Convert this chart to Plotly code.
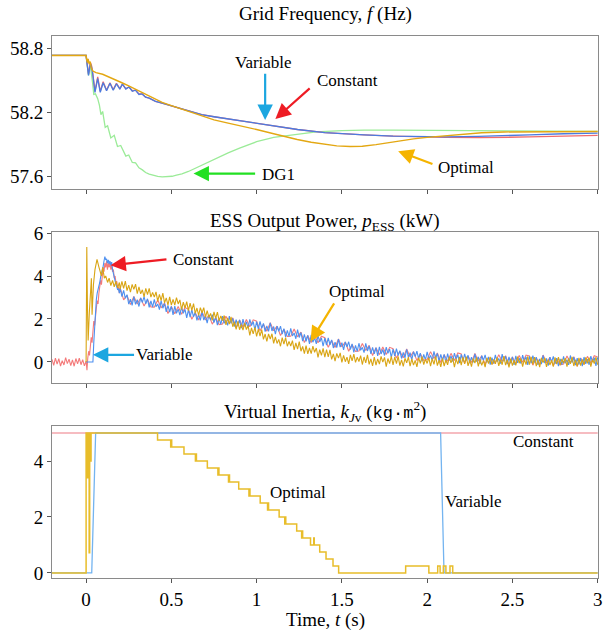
import plotly.graph_objects as go

# ---------------- Panel 1: Grid frequency (Hz) ----------------
t_f_var = [-0.2, 0.0, 0.004, 0.014, 0.025, 0.032, 0.039, 0.052, 0.068, 0.083, 0.100, 0.120, 0.140,
           0.159, 0.178, 0.198, 0.213, 0.233, 0.252, 0.271, 0.290, 0.310, 0.329, 0.349, 0.37, 0.39,
           0.407, 0.44, 0.484, 0.53, 0.58, 0.63, 0.678, 0.75, 0.833, 0.9, 1.0, 1.1, 1.24, 1.4, 1.5,
           1.63, 1.8, 2.0, 2.11, 2.3, 2.45, 2.6, 2.8, 3.0]
f_var = [58.737, 58.737, 58.68, 58.55, 58.66, 58.63, 58.56, 58.39, 58.52, 58.39, 58.48, 58.405, 58.475,
         58.41, 58.47, 58.42, 58.47, 58.42, 58.44, 58.40, 58.41, 58.37, 58.375, 58.345, 58.335, 58.315,
         58.305, 58.29, 58.27, 58.25, 58.23, 58.20, 58.18, 58.16, 58.14, 58.125, 58.10, 58.07, 58.04, 58.01, 58.0,
         57.99, 57.978, 57.972, 57.97, 57.975, 57.98, 57.99, 58.0, 58.006]
f_const = [58.737, 58.737, 58.69, 58.56, 58.67, 58.64, 58.57, 58.40, 58.535, 58.40, 58.49, 58.41, 58.48,
           58.415, 58.475, 58.425, 58.465, 58.425, 58.44, 58.405, 58.41, 58.375, 58.375, 58.345, 58.335, 58.315,
           58.305, 58.29, 58.27, 58.25, 58.23, 58.20, 58.18, 58.16, 58.14, 58.125, 58.10, 58.07, 58.04, 58.01, 58.0,
           57.99, 57.978, 57.968, 57.965, 57.963, 57.965, 57.97, 57.978, 57.985]
t_f_opt = [-0.2, 0.0, 0.004, 0.008, 0.012, 0.018, 0.024, 0.03, 0.04, 0.058, 0.097, 0.135, 0.174, 0.21,
           0.25, 0.3, 0.349, 0.4, 0.446, 0.5, 0.562, 0.62, 0.678, 0.75, 0.833, 0.92, 1.0, 1.1, 1.17,
           1.238, 1.32, 1.4, 1.47, 1.548, 1.62, 1.7, 1.82, 1.92, 2.0, 2.11, 2.2, 2.32, 2.45, 2.6, 2.8, 3.0]
f_opt = [58.737, 58.737, 58.69, 58.67, 58.705, 58.655, 58.68, 58.62, 58.59, 58.575, 58.56, 58.535, 58.51, 58.48,
         58.45, 58.41, 58.37, 58.33, 58.295, 58.265, 58.23, 58.197, 58.165, 58.13, 58.10, 58.07, 58.04, 58.0, 57.972,
         57.946, 57.92, 57.9, 57.886, 57.88, 57.883, 57.898, 57.93, 57.952, 57.966, 57.98, 57.995, 58.01, 58.017,
         58.02, 58.021, 58.021]
t_f_dg1 = [-0.2, 0.0, 0.014, 0.025, 0.038, 0.045, 0.055, 0.068, 0.078, 0.087, 0.097, 0.112, 0.126, 0.145,
           0.165, 0.184, 0.203, 0.233, 0.25, 0.271, 0.29, 0.31, 0.33, 0.349, 0.37, 0.388, 0.42, 0.446,
           0.475, 0.504, 0.53, 0.562, 0.6, 0.64, 0.68, 0.717, 0.78, 0.833, 0.9, 1.0, 1.1, 1.238, 1.35,
           1.5, 1.63, 1.8, 2.0, 2.5, 3.0]
f_dg1 = [58.737, 58.737, 58.55, 58.64, 58.48, 58.37, 58.375, 58.33, 58.27, 58.18, 58.21, 58.06, 58.075, 57.96,
         57.985, 57.88, 57.89, 57.79, 57.80, 57.73, 57.725, 57.68, 57.66, 57.635, 57.62, 57.61, 57.598, 57.594,
         57.595, 57.60, 57.61, 57.622, 57.645, 57.675, 57.705, 57.74, 57.785, 57.82, 57.865, 57.925, 57.965,
         57.995, 58.018, 58.03, 58.035, 58.034, 58.032, 58.026, 58.022]

# ---------------- Panel 2: ESS output power (kW) ----------------
t_ess_grid = [round(0.2 + 0.01 * i, 2) for i in range(281)]
t_ess_grid_red = [round(0.2 + 0.02 * i, 2) for i in range(141)]
t_ess_pre_red = [round(-0.2 + 0.01 * i, 2) for i in range(21)]

ess_const_pre = [0.12, -0.16, 0.18, -0.10, 0.15, -0.19, 0.06, -0.14, 0.20, -0.08, 0.13, -0.17, 0.10,
                 -0.20, 0.16, -0.09, 0.18, -0.13, 0.11, -0.18, 0.04]
t_ess_const_start = [0.005, 0.01, 0.015, 0.02, 0.025, 0.03, 0.035, 0.04, 0.045, 0.05, 0.055, 0.06, 0.065,
                     0.07, 0.075, 0.08, 0.085, 0.09, 0.095, 0.10, 0.105, 0.11, 0.115, 0.12, 0.125, 0.13,
                     0.135, 0.14, 0.145, 0.15, 0.155, 0.16, 0.165, 0.17, 0.175, 0.18, 0.185, 0.19, 0.195]
ess_const_start = [-0.38, 0.2, 0.5, 0.3, 0.8, 1.15, 0.9, 1.5, 1.9, 1.7, 2.3, 2.5, 2.85, 2.7, 3.2, 3.5, 3.8,
                   3.6, 4.1, 4.4, 4.2, 4.6, 4.4, 4.7, 4.3, 4.6, 4.4, 4.65, 4.3, 4.5, 4.2, 4.3, 3.9, 4.0,
                   3.7, 3.75, 3.4, 3.5, 3.2]
ess_const_grid = [
    3.45, 2.89, 3.10, 2.67, 3.05, 2.70, 2.98, 2.60, 2.91, 2.56,
    2.55, 2.88, 2.52, 2.74, 2.25, 2.58, 2.24, 2.58, 2.22, 2.53,
    2.45, 1.99, 2.29, 1.95, 2.34, 1.95, 2.18, 1.76, 2.06, 1.74,
    1.77, 2.13, 1.80, 2.05, 1.59, 1.95, 1.63, 1.98, 1.64, 1.96,
    1.90, 1.45, 1.76, 1.43, 1.83, 1.45, 1.67, 1.23, 1.52, 1.19,
    1.20, 1.53, 1.17, 1.39, 0.90, 1.23, 0.90, 1.24, 0.89, 1.20,
    1.13, 0.68, 1.00, 0.67, 1.07, 0.70, 0.93, 0.50, 0.81, 0.49,
    0.51, 0.86, 0.53, 0.77, 0.30, 0.66, 0.34, 0.70, 0.35, 0.68,
    0.62, 0.18, 0.50, 0.19, 0.60, 0.23, 0.48, 0.06, 0.38, 0.07,
    0.11, 0.48, 0.16, 0.42, -0.03, 0.34, 0.03, 0.40, 0.07, 0.42,
    0.37, -0.06, 0.28, -0.03, 0.39, 0.04, 0.29, -0.11, 0.21, -0.08,
    -0.03, 0.34, 0.03, 0.29, -0.15, 0.23, -0.08, 0.30, -0.02, 0.32,
    0.28, -0.15, 0.19, -0.11, 0.32, -0.04, 0.22, -0.18, 0.15, -0.14,
    -0.10, 0.28, -0.03, 0.24, -0.20, 0.18, -0.12, 0.26, -0.06, 0.29,
    0.23]

t_ess_var_start = [0.0, 0.04, 0.045, 0.05, 0.055, 0.06, 0.065, 0.07, 0.075, 0.08, 0.085, 0.09, 0.095,
                   0.10, 0.105, 0.11, 0.115, 0.12, 0.125, 0.13, 0.135, 0.14, 0.145, 0.15, 0.155, 0.16,
                   0.165, 0.17, 0.175, 0.18, 0.185, 0.19, 0.195]
ess_var_start = [0, 0, 0.9, 1.8, 2.5, 2.9, 3.2, 3.35, 3.6, 3.7, 3.95, 4.1, 4.3, 4.45, 4.7, 4.9, 4.75, 4.8,
                 4.6, 4.75, 4.55, 4.7, 4.5, 4.65, 4.3, 4.1, 3.95, 3.75, 3.6, 3.5, 3.35, 3.4, 3.2]
ess_var_grid = [
    3.43, 3.04, 3.33, 2.96, 3.13, 2.69, 2.92, 2.63, 3.04, 2.68,
    2.90, 2.58, 2.98, 2.77, 3.04, 2.70, 2.94, 2.54, 2.84, 2.55,
    2.91, 2.57, 2.70, 2.44, 2.85, 2.50, 2.72, 2.33, 2.63, 2.32,
    2.59, 2.19, 2.60, 2.26, 2.46, 2.18, 2.56, 2.26, 2.45, 2.05,
    2.43, 2.09, 2.43, 2.10, 2.32, 1.94, 2.20, 1.94, 2.33, 1.95,
    2.15, 1.81, 2.18, 1.95, 2.20, 1.83, 2.09, 1.71, 2.02, 1.75,
    2.13, 1.80, 1.95, 1.70, 2.13, 1.79, 2.03, 1.65, 1.97, 1.67,
    1.96, 1.57, 1.99, 1.65, 1.86, 1.59, 1.98, 1.69, 1.88, 1.49,
    1.88, 1.54, 1.89, 1.56, 1.79, 1.41, 1.68, 1.42, 1.82, 1.44,
    1.65, 1.30, 1.67, 1.43, 1.67, 1.30, 1.55, 1.16, 1.47, 1.19,
    1.56, 1.21, 1.35, 1.08, 1.50, 1.14, 1.37, 0.97, 1.28, 0.96,
    1.24, 0.84, 1.26, 0.92, 1.12, 0.84, 1.23, 0.93, 1.12, 0.73,
    1.11, 0.78, 1.12, 0.80, 1.03, 0.65, 0.92, 0.67, 1.06, 0.69,
    0.90, 0.56, 0.93, 0.70, 0.94, 0.58, 0.84, 0.45, 0.77, 0.49,
    0.87, 0.54, 0.68, 0.43, 0.86, 0.51, 0.75, 0.37, 0.68, 0.38,
    0.67, 0.28, 0.70, 0.37, 0.58, 0.30, 0.69, 0.40, 0.60, 0.21,
    0.60, 0.27, 0.62, 0.30, 0.53, 0.16, 0.44, 0.19, 0.59, 0.22,
    0.43, 0.09, 0.48, 0.25, 0.50, 0.15, 0.41, 0.03, 0.35, 0.09,
    0.47, 0.15, 0.30, 0.06, 0.49, 0.16, 0.40, 0.03, 0.35, 0.06,
    0.35, -0.03, 0.39, 0.07, 0.28, 0.02, 0.41, 0.13, 0.34, -0.05,
    0.35, 0.03, 0.38, 0.07, 0.31, -0.06, 0.22, -0.02, 0.38, 0.02,
    0.24, -0.09, 0.29, 0.07, 0.33, -0.02, 0.24, -0.13, 0.20, -0.06,
    0.33, 0.01, 0.16, -0.08, 0.36, 0.03, 0.27, -0.10, 0.23, -0.06,
    0.24, -0.14, 0.28, -0.04, 0.18, -0.08, 0.32, 0.03, 0.24, -0.14,
    0.26, -0.06, 0.29, -0.02, 0.22, -0.14, 0.14, -0.10, 0.31, -0.05,
    0.16, -0.17, 0.22, 0.00, 0.26, -0.09, 0.18, -0.19, 0.14, -0.12,
    0.26, -0.06, 0.10, -0.14, 0.30, -0.03, 0.22, -0.15, 0.18, -0.11,
    0.18, -0.20, 0.23, -0.09, 0.13, -0.13, 0.27, -0.01, 0.20, -0.18,
    0.21]

t_ess_opt_start = [0.0, 0.004, 0.008, 0.012, 0.019, 0.025, 0.031, 0.035, 0.043, 0.052, 0.064, 0.074,
                   0.083, 0.09, 0.097, 0.107, 0.115, 0.126, 0.135, 0.145, 0.155, 0.165, 0.175, 0.185, 0.195]
ess_opt_start = [0, 5.35, 2.5, 1.0, 2.3, 3.3, 3.9, 2.2, 3.6, 4.3, 4.77, 4.45, 4.1, 4.0, 4.4, 3.9, 4.0, 3.7,
                 3.9, 3.55, 3.8, 3.5, 3.75, 3.45, 3.7]
ess_opt_grid = [
    3.39, 3.75, 3.43, 3.76, 3.32, 3.58, 3.25, 3.61, 3.38, 3.62,
    3.18, 3.49, 3.17, 3.36, 3.03, 3.43, 3.13, 3.42, 3.02, 3.24,
    3.02, 3.26, 2.83, 3.15, 2.86, 3.20, 2.75, 2.98, 2.65, 3.03,
    2.65, 2.91, 2.65, 2.99, 2.70, 2.89, 2.43, 2.78, 2.51, 2.81,
    2.39, 2.74, 2.40, 2.72, 2.26, 2.51, 2.17, 2.53, 2.29, 2.53,
    2.08, 2.39, 2.07, 2.26, 1.93, 2.33, 2.03, 2.32, 1.92, 2.14,
    1.92, 2.16, 1.73, 2.05, 1.76, 2.10, 1.64, 1.86, 1.52, 1.89,
    1.50, 1.75, 1.48, 1.81, 1.51, 1.69, 1.24, 1.58, 1.31, 1.61,
    1.19, 1.53, 1.20, 1.51, 1.05, 1.30, 0.96, 1.31, 1.07, 1.31,
    0.86, 1.17, 0.86, 1.05, 0.73, 1.13, 0.83, 1.13, 0.73, 0.96,
    0.74, 0.99, 0.56, 0.89, 0.60, 0.95, 0.50, 0.72, 0.39, 0.76,
    0.38, 0.65, 0.39, 0.74, 0.45, 0.65, 0.21, 0.57, 0.31, 0.63,
    0.22, 0.57, 0.24, 0.56, 0.12, 0.37, 0.04, 0.40, 0.18, 0.42,
    -0.02, 0.31, 0.01, 0.22, -0.09, 0.33, 0.05, 0.36, -0.02, 0.22,
    0.02, 0.29, -0.12, 0.23, -0.04, 0.33, -0.11, 0.14, -0.18, 0.22,
    -0.15, 0.14, -0.10, 0.26, -0.01, 0.21, -0.22, 0.16, -0.08, 0.26,
    -0.14, 0.23, -0.08, 0.26, -0.17, 0.10, -0.21, 0.17, -0.04, 0.22,
    -0.20, 0.14, -0.15, 0.07, -0.23, 0.20, -0.07, 0.25, -0.12, 0.13,
    -0.07, 0.20, -0.20, 0.15, -0.11, 0.26, -0.17, 0.08, -0.23, 0.17,
    -0.19, 0.10, -0.14, 0.23, -0.04, 0.18, -0.24, 0.14, -0.10, 0.24,
    -0.15, 0.22, -0.09, 0.25, -0.18, 0.09, -0.22, 0.16, -0.05, 0.21,
    -0.21, 0.13, -0.16, 0.06, -0.24, 0.19, -0.08, 0.24, -0.13, 0.12,
    -0.09, 0.21, -0.18, 0.12, -0.13, 0.27, -0.15, 0.10, -0.25, 0.15,
    -0.17, 0.08, -0.16, 0.25, -0.06, 0.16, -0.22, 0.12, -0.12, 0.26,
    -0.13, 0.24, -0.11, 0.22, -0.20, 0.11, -0.24, 0.18, -0.03, 0.19,
    -0.23, 0.11, -0.14, 0.08, -0.22, 0.21, -0.10, 0.22, -0.15, 0.14,
    -0.05, 0.18, -0.22, 0.17, -0.09, 0.24, -0.19, 0.10, -0.21, 0.19,
    -0.17, 0.12, -0.12, 0.21, -0.06, 0.20, -0.22, 0.12, -0.08, 0.22,
    -0.13]

# ---------------- Panel 3: Virtual inertia (kg m^2) ----------------
t_kjv_const = [-0.2, 3.0]
kjv_const = [5, 5]
t_kjv_var = [-0.2, 0.033, 0.056, 2.079, 2.099, 3.0]
kjv_var = [0, 0, 5, 5, 0, 0]
t_kjv_opt = [-0.2, 0.0, 0.008, 0.011, 0.018, 0.021, 0.026, 0.029, 0.419, 0.496, 0.499, 0.502, 0.574,
             0.641, 0.644, 0.647, 0.711, 0.773, 0.776, 0.779, 0.835, 0.838, 0.841, 0.895, 0.955, 0.958,
             0.961, 1.021, 1.064, 1.067, 1.070, 1.132, 1.165, 1.168, 1.171, 1.235, 1.264, 1.267, 1.270,
             1.316, 1.335, 1.338, 1.370, 1.407, 1.448, 1.481, 1.874, 2.010, 2.062, 2.076, 2.095, 2.110,
             2.134, 2.150, 3.0]
kjv_opt = [0, 5, 3.4, 5, 0.72, 5, 4.0, 5, 4.75, 4.5, 4.75, 4.5, 4.25, 4.0, 4.25, 4.0, 3.75, 3.5, 3.75,
           3.5, 3.25, 3.5, 3.25, 3.0, 2.75, 3.0, 2.75, 2.5, 2.25, 2.5, 2.25, 2.0, 1.75, 2.0, 1.75, 1.5,
           1.25, 1.5, 1.25, 1.0, 1.25, 1.0, 0.75, 0.5, 0.25, 0, 0.25, 0, 0.25, 0, 0.25, 0, 0.25, 0, 0]

x_ticks = [0, 0.5, 1, 1.5, 2, 2.5, 3]
x_tick_text = ["0", "0.5", "1", "1.5", "2", "2.5", "3"]

# ---------------- Figure ----------------
FONT = "Liberation Serif, Times New Roman, DejaVu Serif, serif"
fig = go.Figure()


def add(x, y, color, width, xa, ya, shape="linear"):
    fig.add_trace(go.Scatter(x=x, y=y, mode="lines", xaxis=xa, yaxis=ya,
                             line=dict(color=color, width=width, shape=shape),
                             showlegend=False, hoverinfo="skip"))


# Panel 1
add(t_f_dg1, f_dg1, "#9beb98", 1.3, "x", "y")
add(t_f_var, f_const, "#f06c6c", 1.3, "x", "y")
add(t_f_var, f_var, "#4b7be0", 1.3, "x", "y")
add(t_f_opt, f_opt, "#e3a712", 1.4, "x", "y")

# Panel 2
add(t_ess_pre_red + t_ess_const_start + t_ess_grid_red,
    ess_const_pre + ess_const_start + ess_const_grid, "#f47a7a", 1.1, "x2", "y2")
add(t_ess_var_start + t_ess_grid, ess_var_start + ess_var_grid, "#4d90f0", 1.1, "x2", "y2")
add(t_ess_opt_start + t_ess_grid, ess_opt_start + ess_opt_grid, "#d9a514", 1.1, "x2", "y2")

# Panel 3
add(t_kjv_const, kjv_const, "#f3a6ad", 1.6, "x3", "y3")
add(t_kjv_var, kjv_var, "#74b4f0", 1.3, "x3", "y3")
add(t_kjv_opt, kjv_opt, "#e8bd2a", 1.5, "x3", "y3", shape="hv")

axis_common = dict(showline=True, mirror=True, linecolor="#8a8a8a", linewidth=1,
                   ticks="outside", ticklen=4, tickcolor="#555555", showgrid=False,
                   zeroline=False, ticklabeloverflow="allow",
                   tickfont=dict(family=FONT, size=19, color="black"))

xcommon = dict(axis_common, range=[-0.2, 3.002], tickvals=x_ticks, ticktext=x_tick_text)
fig.update_layout(
    xaxis=dict(xcommon, domain=[0, 1], anchor="y", showticklabels=False),
    xaxis2=dict(xcommon, domain=[0, 1], anchor="y2", showticklabels=False),
    xaxis3=dict(xcommon, domain=[0, 1], anchor="y3", showticklabels=True),
    yaxis=dict(axis_common, domain=[0.7177, 1.0], anchor="x", range=[57.48, 58.92],
               tickvals=[57.6, 58.2, 58.8], ticktext=["57.6", "58.2", "58.8"]),
    yaxis2=dict(axis_common, domain=[0.3598, 0.6384], anchor="x2", range=[-0.98, 6.05],
                tickvals=[0, 2, 4, 6], ticktext=["0", "2", "4", "6"]),
    yaxis3=dict(axis_common, domain=[0.0, 0.2804], anchor="x3", range=[-0.18, 5.25],
                tickvals=[0, 2, 4], ticktext=["0", "2", "4"]),
)

annotations = []


def title(text, y):
    annotations.append(dict(text=text, x=0.5, y=y, xref="paper", yref="paper", showarrow=False,
                            xanchor="center", yanchor="middle",
                            font=dict(family=FONT, size=19, color="black")))


title("Grid Frequency, <i>f</i> (Hz)", 1.0406)
title("ESS Output Power, <i>p</i><sub>ESS</sub> (kW)", 0.6568)
title("Virtual Inertia, <i>k</i><sub><i>J</i>v</sub> (<span style='font-family:Liberation Mono;font-size:17px'>kg·m</span><sup>2</sup>)", 0.3081)
title("Time, <i>t</i> (s)", -0.0775)


def label(text, x, y, xa, ya):
    annotations.append(dict(text=text, x=x, y=y, xref=xa, yref=ya, showarrow=False,
                            xanchor="center", yanchor="middle",
                            font=dict(family=FONT, size=17, color="black")))


def arrow(x, y, ax, ay, xa, ya, color):
    annotations.append(dict(text="", x=x, y=y, ax=ax, ay=ay, xref=xa, yref=ya, axref=xa, ayref=ya,
                            showarrow=True, arrowhead=2, arrowsize=1.4, arrowwidth=2.2,
                            arrowcolor=color, standoff=0, startstandoff=0))


# Panel 1 labels
label("Variable", 1.04, 58.67, "x", "y")
arrow(1.05, 58.13, 1.05, 58.58, "x", "y", "#1ca6e0")
label("Constant", 1.53, 58.50, "x", "y")
arrow(1.11, 58.14, 1.32, 58.44, "x", "y", "#ee1c24")
label("DG1", 1.13, 57.62, "x", "y")
arrow(0.63, 57.625, 1.0, 57.625, "x", "y", "#22e022")
label("Optimal", 2.23, 57.685, "x", "y")
arrow(1.83, 57.836, 2.04, 57.71, "x", "y", "#f5b400")

# Panel 2 labels
label("Constant", 0.69, 4.79, "x2", "y2")
arrow(0.143, 4.5, 0.48, 4.78, "x2", "y2", "#ee1c24")
label("Variable", 0.46, 0.33, "x2", "y2")
arrow(0.04, 0.33, 0.29, 0.33, "x2", "y2", "#1ca6e0")
label("Optimal", 1.587, 3.27, "x2", "y2")
arrow(1.316, 0.95, 1.46, 2.8, "x2", "y2", "#f5b400")

# Panel 3 labels
label("Constant", 2.68, 4.68, "x3", "y3")
label("Optimal", 1.245, 2.87, "x3", "y3")
label("Variable", 2.27, 2.54, "x3", "y3")

fig.update_layout(
    annotations=annotations,
    width=606, height=633,
    margin=dict(l=52, r=4, t=36, b=55),
    paper_bgcolor="white", plot_bgcolor="white",
    font=dict(family=FONT, size=16, color="black"),
    showlegend=False,
)

# remove the browser's default 8 px body margin so the figure sits at the page origin
fig.write_html("out.html",
               config={"displayModeBar": False},
               post_script="document.body.style.margin='0px';document.body.style.overflow='hidden';")
